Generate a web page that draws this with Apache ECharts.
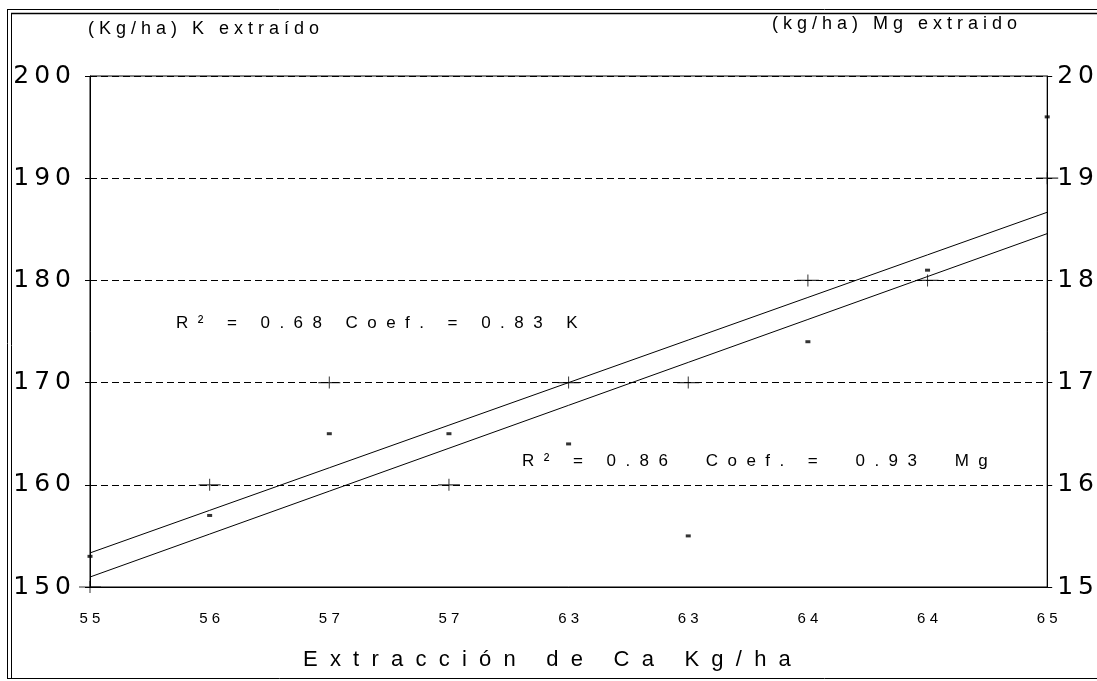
<!DOCTYPE html>
<html>
<head>
<meta charset="utf-8">
<script src="https://cdn.jsdelivr.net/npm/echarts@6/dist/echarts.min.js"></script>
<style>html,body{margin:0;padding:0;background:#fff}#c{width:1097px;height:681px}</style>
</head>
<body>
<div id="c"></div>
<script>
// ---- data ----
const categories = ['55','56','57','57','63','63','64','64','65'];   // Extracción de Ca Kg/ha
const kValues  = [153, 157, 165, 165, 164, 155, 174, 181, 196];     // K extraído (kg/ha), left axis
const mgValues = [15, 16, 17, 16, 17, 17, 18, 18, 19];              // Mg extraído (kg/ha), right axis
const leftTicks  = [150, 160, 170, 180, 190, 200];
const rightTicks = [15, 16, 17, 18, 19, 20];
const noteK  = 'R² = 0.68 Coef. = 0.83 K';
const noteMg = 'R² = 0.86  Coef. =  0.93  Mg';
const titleLeft  = '(Kg/ha) K extraído';
const titleRight = '(kg/ha) Mg extraido';
const xName = 'Extracción de Ca Kg/ha';

// least-squares fit over category index
function fit(vals){
  const n = vals.length; let sx=0, sy=0, sxx=0, sxy=0;
  vals.forEach((y,i)=>{sx+=i;sy+=y;sxx+=i*i;sxy+=i*y;});
  const b = (n*sxy - sx*sy)/(n*sxx - sx*sx), a = (sy - b*sx)/n;
  return vals.map((_,i)=>a+b*i);
}
function spread(s, n){ return s.split('').join(' '.repeat(n)); }

const chart = echarts.init(document.getElementById('c'), null, {renderer:'canvas'});
const FONT = 'Liberation Sans';
const plus = 'path://M0,4.5h22v1h-22z M10.5,0h1v10h-1z';

chart.setOption({
  backgroundColor: '#fff',
  animation: false,
  grid: {left: 90, right: 48, top: 76, bottom: 94, show: true, borderColor: '#000', borderWidth: 1, backgroundColor: 'transparent'},
  xAxis: {
    type: 'category', data: categories, boundaryGap: false,
    axisLine: {show: true, lineStyle: {color: '#000'}},
    axisTick: {show: false},
    axisLabel: {color: '#000', fontFamily: FONT, fontSize: 15, margin: 24, formatter: v => spread(v,1)},
    splitLine: {show: false}
  },
  yAxis: [
    {
      type: 'value', min: leftTicks[0], max: leftTicks[leftTicks.length-1], interval: 10,
      axisLine: {show: true, lineStyle: {color: '#000'}},
      axisTick: {show: true, inside: false, length: 5, lineStyle: {color: '#000'}},
      axisLabel: {color: '#000', fontFamily: 'DejaVu Sans', fontSize: 25, margin: 19,
                  formatter: v => String(v).split('').join('\u2009')},
      splitLine: {show: true, lineStyle: {color: '#000', type: [7,4], width: 1}}
    },
    {
      type: 'value', position: 'right', min: rightTicks[0], max: rightTicks[rightTicks.length-1], interval: 1,
      axisLine: {show: true, lineStyle: {color: '#000'}},
      axisTick: {show: true, inside: false, length: 5, lineStyle: {color: '#000'}},
      axisLabel: {color: '#000', fontFamily: 'DejaVu Sans', fontSize: 25, margin: 10,
                  formatter: v => String(v).split('').join('\u2009')},
      splitLine: {show: false}
    }
  ],
  series: [
    {name: 'K fit', type: 'line', yAxisIndex: 0, data: fit(kValues), showSymbol: false, symbol: 'none',
     lineStyle: {color: '#000', width: 1}, z: 2},
    {name: 'Mg fit', type: 'line', yAxisIndex: 1, data: fit(mgValues), showSymbol: false, symbol: 'none',
     lineStyle: {color: '#000', width: 1}, z: 2},
    {name: 'K', type: 'scatter', yAxisIndex: 0, data: kValues, symbol: 'rect', symbolSize: [5,3],
     itemStyle: {color: '#000'}, z: 3},
    {name: 'Mg', type: 'scatter', yAxisIndex: 1, data: mgValues, symbol: plus, symbolSize: [22,12],
     itemStyle: {color: '#000'}, z: 3}
  ],
  graphic: [
    {type: 'line', shape: {x1: 7, y1: 9.5, x2: 1097, y2: 9.5}, style: {stroke: '#000', lineWidth: 1}},
    {type: 'line', shape: {x1: 11, y1: 13.5, x2: 1097, y2: 13.5}, style: {stroke: '#000', lineWidth: 1.5}},
    {type: 'line', shape: {x1: 7.5, y1: 9, x2: 7.5, y2: 678}, style: {stroke: '#000', lineWidth: 1}},
    {type: 'line', shape: {x1: 11.5, y1: 13, x2: 11.5, y2: 678}, style: {stroke: '#000', lineWidth: 1}},
    {type: 'line', shape: {x1: 7, y1: 678.5, x2: 1097, y2: 678.5}, style: {stroke: '#000', lineWidth: 1}},
    {type: 'text', x: 88, y: 29, style: {text: spread(titleLeft,1), font: '18px "Liberation Sans"', fill: '#000', textVerticalAlign: 'middle'}},
    {type: 'text', x: 772, y: 24, style: {text: spread(titleRight,1), font: '18px "Liberation Sans"', fill: '#000', textVerticalAlign: 'middle'}},
    {type: 'text', x: 176, y: 323, style: {text: spread(noteK,2), font: '17px "Liberation Sans"', fill: '#000', textVerticalAlign: 'middle'}},
    {type: 'text', x: 522, y: 461, style: {text: spread(noteMg,2), font: '17px "Liberation Sans"', fill: '#000', textVerticalAlign: 'middle'}},
    {type: 'text', x: 303, y: 660, style: {text: spread(xName,2), font: '22px "Liberation Sans"', fill: '#000', textVerticalAlign: 'middle'}}
  ]
});
</script>
</body>
</html>
